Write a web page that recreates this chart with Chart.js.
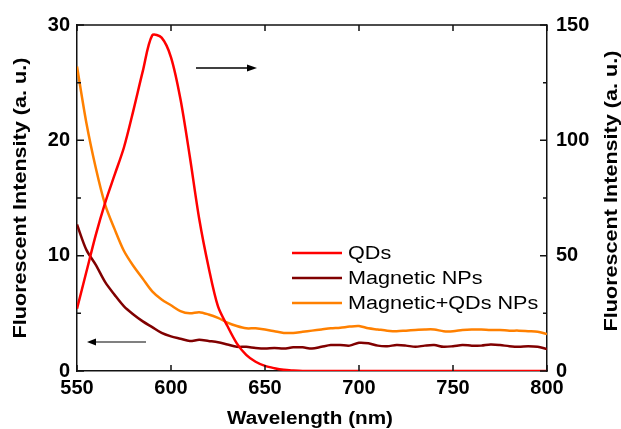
<!DOCTYPE html>
<html>
<head>
<meta charset="utf-8">
<script src="https://cdn.jsdelivr.net/npm/chart.js@4.4.1/dist/chart.umd.min.js"></script>
<style>
  html, body { margin: 0; padding: 0; background: #fff; }
  #wrap { width: 621px; height: 429px; }
</style>
</head>
<body>
<div id="wrap"><canvas id="myChart" width="621" height="429"></canvas></div>
<script>
// Wavelength grid (nm)
const wavelengths = [
  550, 555, 560, 565, 570, 575, 580, 585, 590, 595,
  600, 605, 610, 615, 620, 625, 630, 635, 640, 645,
  650, 655, 660, 665, 670, 675, 680, 685, 690, 695,
  700, 705, 710, 715, 720, 725, 730, 735, 740, 745,
  750, 755, 760, 765, 770, 775, 780, 785, 790, 795, 800
];

// QDs, read against the right axis
const qdsValues = [
  27, 43, 59, 73, 85, 97, 113, 130, 145.5, 144.5,
  136, 118, 93, 66, 45, 28, 19.5, 12, 7, 4,
  2.2, 1.2, 0.5, 0.2, 0, 0, 0, 0, 0, 0,
  0, 0, 0, 0, 0, 0, 0, 0, 0, 0,
  0, 0, 0, 0, 0, 0, 0, 0, 0, 0, 0
];

// Magnetic NPs, left axis
const magneticValues = [
  12.7, 10.5, 9.2, 7.7, 6.6, 5.6, 4.9, 4.3, 3.8, 3.3,
  3.0, 2.8, 2.6, 2.7, 2.6, 2.5, 2.3, 2.1, 2.1, 2.0,
  1.95, 2.0, 1.95, 2.05, 2.05, 1.95, 2.1, 2.25, 2.25, 2.2,
  2.45, 2.4, 2.2, 2.15, 2.25, 2.2, 2.1, 2.2, 2.25, 2.1,
  2.15, 2.25, 2.2, 2.2, 2.3, 2.25, 2.15, 2.1, 2.15, 2.1, 1.9
];

// Magnetic+QDs NPs, left axis
const comboValues = [
  26.4, 21.5, 17.6, 14.4, 12.3, 10.4, 9.1, 8.0, 6.9, 6.2,
  5.7, 5.2, 5.0, 5.1, 4.9, 4.6, 4.2, 3.9, 3.7, 3.7,
  3.6, 3.45, 3.3, 3.3, 3.4, 3.5, 3.6, 3.7, 3.75, 3.85,
  3.9, 3.7, 3.6, 3.5, 3.45, 3.5, 3.55, 3.6, 3.6, 3.45,
  3.45, 3.55, 3.6, 3.6, 3.55, 3.55, 3.5, 3.5, 3.45, 3.4, 3.2
];

// Series labels and colours
const seriesLabels = ["QDs", "Magnetic NPs", "Magnetic+QDs NPs"];
const seriesColors = ["#ff0000", "#800000", "#ff8000"];

// Minor tick values for each axis
const leftMinorTicks = [5, 15, 25];
const rightMinorTicks = [25, 75, 125];

const xTitle = "Wavelength (nm)";
const yTitle = "Fluorescent Intensity (a. u.)";

// Pair wavelengths with values
function toPoints(values) {
  return wavelengths.map((w, i) => ({ x: w, y: values[i] }));
}

const FONT = "'Liberation Sans', Arial, Helvetica, sans-serif";

// Draws stretched text (the reference text is a bit wider than Arial)
function stretchedText(ctx, text, x, y, rotation, stretch) {
  ctx.save();
  ctx.translate(x, y);
  ctx.rotate(rotation);
  ctx.scale(stretch, 1);
  ctx.fillText(text, 0, 0);
  ctx.restore();
}

// Frame, inward ticks, arrows, titles and legend
const decorPlugin = {
  id: "decor",
  afterDraw(chart) {
    const ctx = chart.ctx;
    const area = chart.chartArea;
    const x = chart.scales.x;
    const y = chart.scales.y;
    const y1 = chart.scales.y1;

    ctx.save();
    ctx.strokeStyle = "#111";
    ctx.lineWidth = 1.5;

    // top frame line
    ctx.beginPath();
    ctx.moveTo(area.left, area.top);
    ctx.lineTo(area.right, area.top);
    ctx.stroke();

    ctx.beginPath();
    // x ticks, bottom and top
    x.ticks.forEach((t) => {
      const px = x.getPixelForValue(t.value);
      ctx.moveTo(px, area.bottom);
      ctx.lineTo(px, area.bottom - 6);
      ctx.moveTo(px, area.top);
      ctx.lineTo(px, area.top + 6);
    });
    // left axis ticks
    y.ticks.forEach((t) => {
      const py = y.getPixelForValue(t.value);
      ctx.moveTo(area.left, py);
      ctx.lineTo(area.left + 7, py);
    });
    leftMinorTicks.forEach((v) => {
      const py = y.getPixelForValue(v);
      ctx.moveTo(area.left, py);
      ctx.lineTo(area.left + 4, py);
    });
    // right axis ticks
    y1.ticks.forEach((t) => {
      const py = y1.getPixelForValue(t.value);
      ctx.moveTo(area.right, py);
      ctx.lineTo(area.right - 7, py);
    });
    rightMinorTicks.forEach((v) => {
      const py = y1.getPixelForValue(v);
      ctx.moveTo(area.right, py);
      ctx.lineTo(area.right - 4, py);
    });
    ctx.stroke();

    // arrow pointing to right axis
    ctx.strokeStyle = "#000";
    ctx.lineWidth = 1.5;
    ctx.beginPath();
    ctx.moveTo(area.left + 119, area.top + 43);
    ctx.lineTo(area.left + 172, area.top + 43);
    ctx.stroke();
    ctx.fillStyle = "#000";
    ctx.beginPath();
    ctx.moveTo(area.left + 180, area.top + 43);
    ctx.lineTo(area.left + 170, area.top + 39.5);
    ctx.lineTo(area.left + 170, area.top + 46.5);
    ctx.closePath();
    ctx.fill();

    // arrow pointing to left axis
    ctx.strokeStyle = "#808080";
    ctx.lineWidth = 2;
    ctx.beginPath();
    ctx.moveTo(area.left + 16, area.bottom - 29);
    ctx.lineTo(area.left + 69, area.bottom - 29);
    ctx.stroke();
    ctx.fillStyle = "#000";
    ctx.beginPath();
    ctx.moveTo(area.left + 10, area.bottom - 29);
    ctx.lineTo(area.left + 19, area.bottom - 32.5);
    ctx.lineTo(area.left + 19, area.bottom - 25.5);
    ctx.closePath();
    ctx.fill();

    // axis titles
    ctx.fillStyle = "#000";
    ctx.font = "bold 18px " + FONT;
    ctx.textAlign = "center";
    ctx.textBaseline = "middle";
    stretchedText(ctx, xTitle, (area.left + area.right) / 2 - 2, 419, 0, 1.15);
    stretchedText(ctx, yTitle, 21, (area.top + area.bottom) / 2, -Math.PI / 2, 1.2);
    stretchedText(ctx, yTitle, 612, (area.top + area.bottom) / 2 - 7, -Math.PI / 2, 1.2);

    // legend
    ctx.font = "18px " + FONT;
    ctx.textAlign = "left";
    const legendX = area.left + 215;
    const legendY = area.top + 228;
    seriesLabels.forEach((label, i) => {
      const ly = legendY + i * 25;
      ctx.strokeStyle = seriesColors[i];
      ctx.lineWidth = 2.5;
      ctx.beginPath();
      ctx.moveTo(legendX, ly);
      ctx.lineTo(legendX + 50, ly);
      ctx.stroke();
      ctx.fillStyle = "#000";
      ctx.save();
      ctx.translate(legendX + 56, ly + 1);
      ctx.scale(1.2, 1);
      ctx.fillText(label, 0, 0);
      ctx.restore();
    });
    ctx.restore();
  },
};

const tickFont = { family: FONT, size: 20, weight: "bold" };

const chart = new Chart(document.getElementById("myChart").getContext("2d"), {
  type: "line",
  data: {
    datasets: [
      {
        label: seriesLabels[0],
        data: toPoints(qdsValues),
        borderColor: seriesColors[0],
        yAxisID: "y1",
      },
      {
        label: seriesLabels[1],
        data: toPoints(magneticValues),
        borderColor: seriesColors[1],
        yAxisID: "y",
      },
      {
        label: seriesLabels[2],
        data: toPoints(comboValues),
        borderColor: seriesColors[2],
        yAxisID: "y",
      },
    ],
  },
  options: {
    responsive: false,
    animation: false,
    devicePixelRatio: 1,
    layout: { padding: { top: 25, left: 0, right: 0, bottom: 0 } },
    elements: {
      point: { radius: 0 },
      line: { borderWidth: 2.5, tension: 0.3, fill: false },
    },
    plugins: {
      legend: { display: false },
      tooltip: { enabled: false },
    },
    scales: {
      x: {
        type: "linear",
        min: 550,
        max: 800,
        grid: { display: false, drawTicks: false },
        border: { display: true, color: "#111", width: 1.5 },
        ticks: { stepSize: 50, color: "#000", font: tickFont, padding: 5, maxRotation: 0 },
        afterFit: (s) => { s.height = 58; },
      },
      y: {
        position: "left",
        min: 0,
        max: 30,
        grid: { display: false, drawTicks: false },
        border: { display: true, color: "#111", width: 1.5 },
        ticks: { stepSize: 10, color: "#000", font: tickFont, padding: 7 },
        afterFit: (s) => { s.width = 77; },
      },
      y1: {
        position: "right",
        min: 0,
        max: 150,
        grid: { display: false, drawTicks: false },
        border: { display: true, color: "#111", width: 1.5 },
        ticks: { stepSize: 50, color: "#000", font: tickFont, padding: 9 },
        afterFit: (s) => { s.width = 74; },
      },
    },
  },
  plugins: [decorPlugin],
});
</script>
</body>
</html>
